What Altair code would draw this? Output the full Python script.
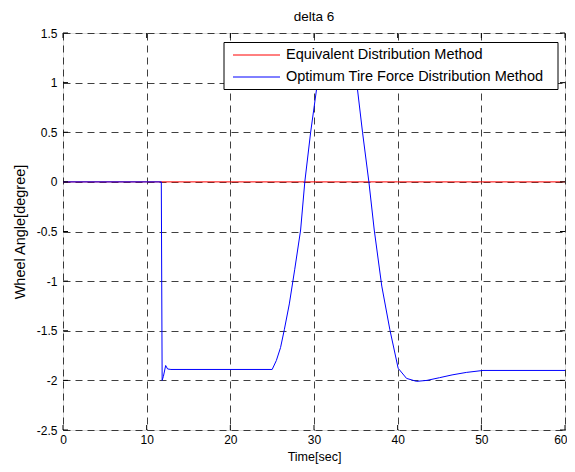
import altair as alt
import pandas as pd

# ---- data ----
series_names = ["Equivalent Distribution Method", "Optimum Tire Force Distribution Method"]
series_colors = ["#ff0000", "#0000ff"]

eq_time = [0, 10, 20, 30, 40, 50, 60]
eq_angle = [0, 0, 0, 0, 0, 0, 0]

opt_time = [0, 11.75, 11.85, 12.0, 12.27, 12.5, 12.9, 25.0, 25.5, 26.0, 26.45, 27.05,
            27.7, 28.4, 28.9, 29.6, 30.3, 31.0, 31.8, 32.7, 33.6, 34.4, 35.2, 35.8,
            36.56, 37.2, 38.1, 39.07, 40.06, 41.06, 42.26, 43.5, 45.0, 46.5, 48.2, 50.2, 60]
opt_angle = [0, 0, -2.0, -1.96, -1.85, -1.885, -1.89, -1.89, -1.80, -1.67, -1.49, -1.23,
             -0.88, -0.485, 0, 0.5, 0.93, 1.17, 1.3, 1.35, 1.3, 1.17, 0.93, 0.5,
             0, -0.485, -1.05, -1.49, -1.878, -1.98, -2.01, -2.0, -1.973, -1.945, -1.92, -1.90, -1.90]

x_ticks = [0, 10, 20, 30, 40, 50, 60]
y_ticks = [-2.5, -2, -1.5, -1, -0.5, 0, 0.5, 1, 1.5]

rows = []
for i, (t, v) in enumerate(zip(eq_time, eq_angle)):
    rows.append({"t": t, "v": v, "s": series_names[0], "o": i})
for i, (t, v) in enumerate(zip(opt_time, opt_angle)):
    rows.append({"t": t, "v": v, "s": series_names[1], "o": i})
df = pd.DataFrame(rows)

W, H = 502, 397
FONT = "Liberation Sans"

xs = alt.Scale(domain=[0, 60], nice=False, zero=False)
ys = alt.Scale(domain=[-2.5, 1.5], nice=False, zero=False)

x_axis = alt.Axis(values=x_ticks, title="Time[sec]", grid=True, gridDash=[7, 5], gridColor="#000",
                  gridOpacity=0.75, ticks=False, domain=False, labelPadding=4, labelFontSize=12,
                  labelFont=FONT, labelColor="#000", titleFont=FONT, titleFontSize=12.5,
                  titleFontWeight="normal", titleColor="#000", titlePadding=5, labelFlush=False,
                  labelExpr="datum.value",
                  labelAlign={"condition": {"test": "datum.value == 60", "value": "right"}, "value": "center"},
                  labelOffset={"condition": {"test": "datum.value == 60", "value": 2}, "value": 0})
y_axis = alt.Axis(values=y_ticks, title="Wheel Angle[degree]", grid=True, gridDash=[7, 5], gridColor="#000",
                  gridOpacity=0.75, ticks=False, domain=False, labelPadding=6, labelFontSize=12,
                  labelFont=FONT, labelColor="#000", titleFont=FONT, titleFontSize=14.5,
                  titleFontWeight="normal", titleColor="#000", titlePadding=9, labelFlush=False,
                  labelExpr="datum.value")

lines = alt.Chart(df).mark_line(strokeWidth=1, clip=True).encode(
    x=alt.X("t:Q", scale=xs, axis=x_axis),
    y=alt.Y("v:Q", scale=ys, axis=y_axis),
    color=alt.Color("s:N", scale=alt.Scale(domain=series_names, range=series_colors), legend=None),
    order="o:Q",
)

xt = pd.DataFrame({"t": x_ticks})
yt = pd.DataFrame({"v": y_ticks})

tick_bottom = alt.Chart(xt).mark_rule(color="#000", strokeWidth=1).encode(
    x=alt.X("t:Q", scale=xs), y=alt.value(H), y2=alt.value(H - 5))
tick_top = alt.Chart(xt).mark_rule(color="#000", strokeWidth=1).encode(
    x=alt.X("t:Q", scale=xs), y=alt.value(0), y2=alt.value(5))
tick_left = alt.Chart(yt).mark_rule(color="#000", strokeWidth=1).encode(
    y=alt.Y("v:Q", scale=ys), x=alt.value(0), x2=alt.value(5))
tick_right = alt.Chart(yt).mark_rule(color="#000", strokeWidth=1).encode(
    y=alt.Y("v:Q", scale=ys), x=alt.value(W), x2=alt.value(W - 5))

# ---- legend box (drawn on top of the lines, as in the reference) ----
box_df = pd.DataFrame({"k": [0]})
legend_box = alt.Chart(box_df).mark_rect(fill="white", stroke="#000", strokeWidth=1).encode(
    x=alt.value(161), x2=alt.value(495), y=alt.value(9.5), y2=alt.value(56.5))

legend_layers = []
row_y = [22, 44]
for name, col, yy in zip(series_names, series_colors, row_y):
    d = pd.DataFrame({"name": [name]})
    legend_layers.append(alt.Chart(d).mark_rule(color=col, strokeWidth=1).encode(
        x=alt.value(170), x2=alt.value(217), y=alt.value(yy)))
    legend_layers.append(alt.Chart(d).mark_text(align="left", baseline="middle", font=FONT,
                                                fontSize=14.5, color="#000").encode(
        x=alt.value(223), y=alt.value(yy), text="name:N"))

chart = alt.layer(lines, tick_bottom, tick_top, tick_left, tick_right, legend_box,
                  *legend_layers).properties(
    width=W, height=H,
    title=alt.TitleParams("delta 6", font=FONT, fontSize=13.5, fontWeight="normal", color="#000",
                          offset=4, frame="group"),
    autosize=alt.AutoSizeParams(type="none"),
    padding={"left": 55, "top": 25, "right": 2, "bottom": 40},
).configure_view(stroke="#000", strokeWidth=1).configure(background="white")

chart.save("out.html", embed_options={"renderer": "svg", "actions": False})
